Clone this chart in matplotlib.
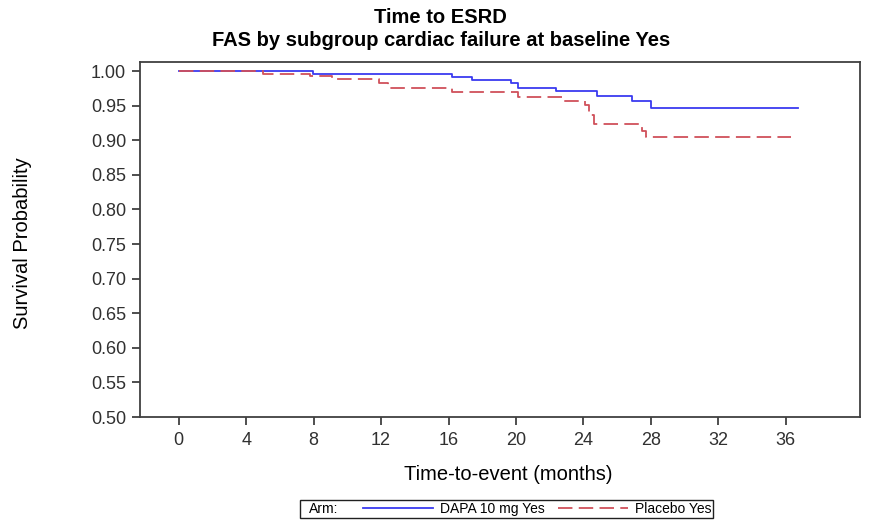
import matplotlib.pyplot as plt
from matplotlib.offsetbox import HPacker, DrawingArea

plt.rcParams['font.family'] = ['Liberation Sans', 'DejaVu Sans']

# Kaplan-Meier step points
dapa_t = [0, 7.97, 16.2, 17.4, 19.7, 20.1, 22.4, 24.8, 26.9, 28.0, 36.7]
dapa_s = [1.0, 0.995, 0.992, 0.987, 0.982, 0.976, 0.971, 0.964, 0.956, 0.947, 0.947]

plac_t = [0, 5.0, 7.8, 9.1, 11.9, 12.4, 16.2, 20.1, 22.8, 24.1, 24.3, 24.6, 27.5, 27.7, 36.3]
plac_s = [1.0, 0.996, 0.993, 0.988, 0.982, 0.975, 0.969, 0.963, 0.957, 0.951, 0.937, 0.924, 0.914, 0.904, 0.904]

x_ticks = list(range(0, 37, 4))
y_ticks = [0.50, 0.55, 0.60, 0.65, 0.70, 0.75, 0.80, 0.85, 0.90, 0.95, 1.00]

fig = plt.figure(figsize=(8.71, 5.20), dpi=100)
ax = fig.add_axes([0.1607, 0.198, 0.8267, 0.6827])

ax.step(dapa_t, dapa_s, where='post', color='#3a3af0', lw=1.3, label='DAPA 10 mg Yes')
ax.step(plac_t, plac_s, where='post', color='#d0505a', lw=1.3,
        linestyle=(0, (8, 3.5)), label='Placebo Yes')

ax.set_xlim(-2.3, 40.4)
ax.set_ylim(0.50, 1.013)
ax.set_xticks(x_ticks)
ax.set_yticks(y_ticks)
ax.set_yticklabels([f'{v:.2f}' for v in y_ticks])
ax.tick_params(direction='out', length=6, width=1.2, labelsize=13,
               colors='#303030', pad=4)
ax.tick_params(axis='x', pad=5)
for s in ax.spines.values():
    s.set_color('#404040')
    s.set_linewidth(1.3)

ax.set_xlabel('Time-to-event (months)', fontsize=14.5)
ax.set_ylabel('Survival Probability', fontsize=14.5)
ax.xaxis.set_label_coords(0.511, -0.135)
ax.yaxis.set_label_coords(-0.15, 0.49)

fig.text(0.506, 0.9654, 'Time to ESRD', ha='center', va='center',
         fontsize=14.5, fontweight='bold')
fig.text(0.506, 0.9212, 'FAS by subgroup cardiac failure at baseline Yes',
         ha='center', va='center', fontsize=14.5, fontweight='bold')

leg = fig.legend(loc='center', bbox_to_anchor=(0.5815, 0.021), ncol=2,
                 title='Arm:', fontsize=10, title_fontsize=10,
                 handlelength=5, handletextpad=0.5, columnspacing=1.0,
                 borderpad=0.15, fancybox=False, framealpha=1,
                 edgecolor='#202020')
leg.get_frame().set_linewidth(1.0)
# put the "Arm:" title on the left of the entries, SAS style
title_box, entries = leg._legend_box.get_children()
spacer = DrawingArea(5, 1)
box = HPacker(pad=0.15 * 10, sep=0, align='center',
              children=[spacer, title_box, DrawingArea(18, 1), entries])
box.set_figure(fig)
leg._legend_box = box
box.set_offset(leg._findoffset)

fig.savefig('out.png', dpi=100)
